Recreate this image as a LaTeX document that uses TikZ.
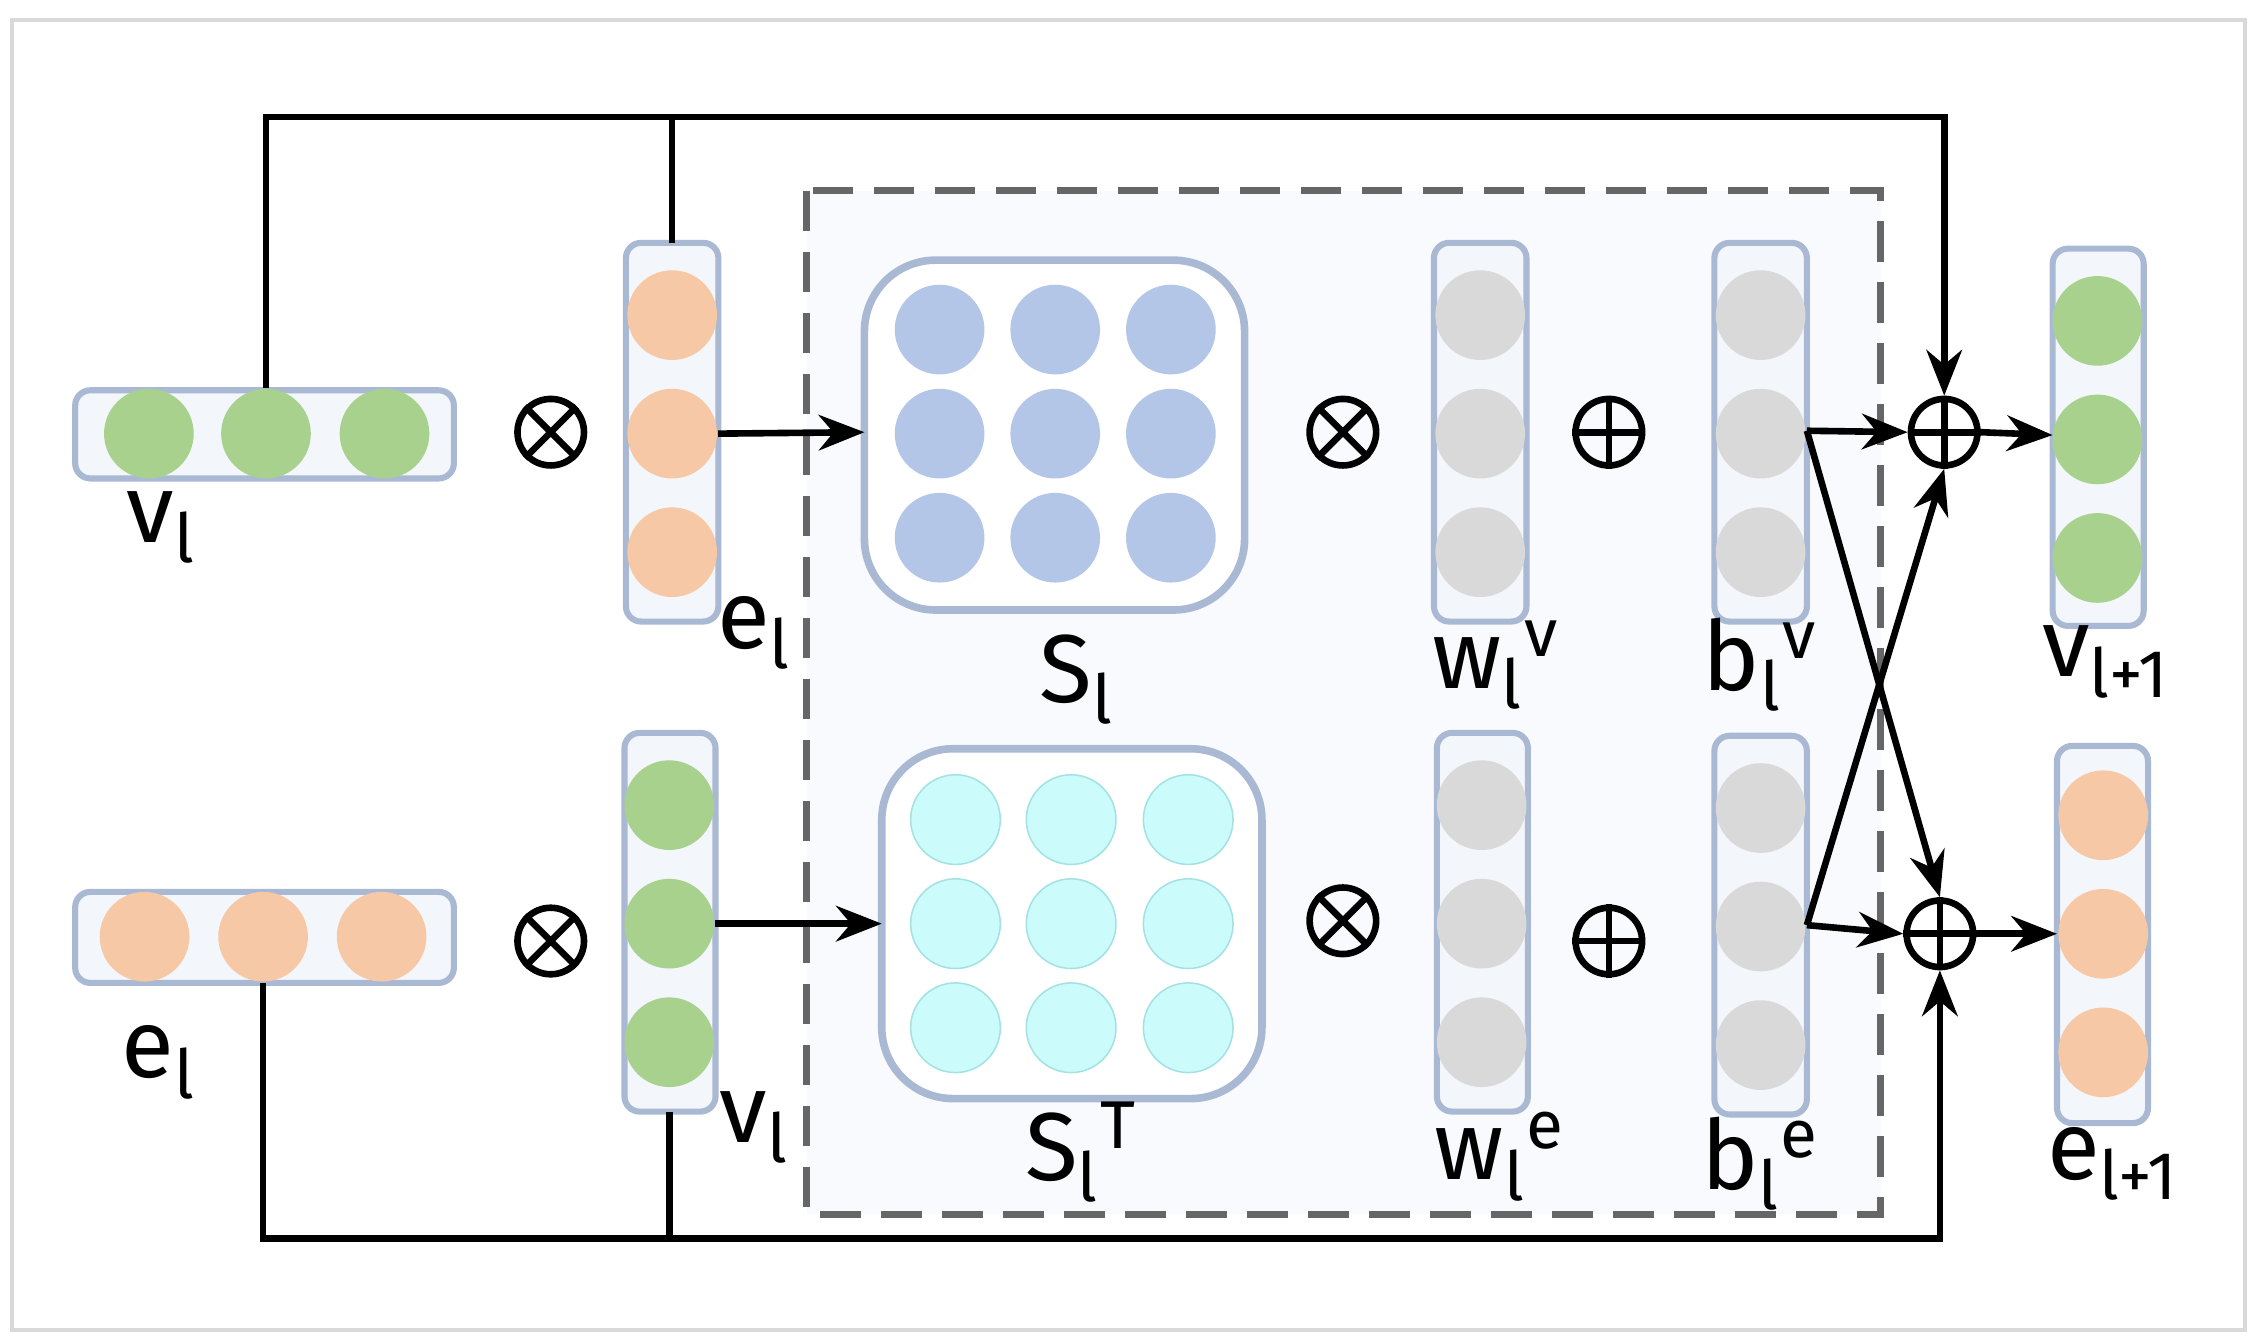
\documentclass[tikz,border=0pt]{standalone}
\usepackage{fontspec}
\setmainfont{Fira Sans}
\usetikzlibrary{arrows.meta}
\definecolor{grn}{HTML}{A8D18D}
\definecolor{pch}{HTML}{F7C8A6}
\definecolor{blu}{HTML}{B4C6E7}
\definecolor{cyn}{HTML}{CCFBFB}
\definecolor{gry}{HTML}{D9D9D9}
\definecolor{bbord}{HTML}{A9B9D3}
\definecolor{bfill}{HTML}{F3F6FB}
\tikzset{
 box/.style={draw=bbord,line width=1.2pt,fill=bfill,rounded corners=3pt},
 mbox/.style={draw=bbord,line width=1.5pt,fill=white,rounded corners=14pt},
 c/.style={circle,minimum size=0.62cm,inner sep=0pt,fill=#1},
 op/.style={circle,draw,line width=1.3pt,minimum size=0.46cm,inner sep=0pt},
 lbl/.style={font=\fontsize{19}{22}\selectfont\mdseries},
 arr/.style={line width=1.3pt,-{Stealth[length=9pt,width=7pt]}},
 ln/.style={line width=1.3pt}
}
\newcommand{\sbs}[1]{\textsubscript{#1}}
\newcommand{\sps}[1]{\textsuperscript{#1}}
\newcommand{\otimesnode}[2]{\node[op] (#1) at #2 {};
 \draw[line width=1.3pt] (#1.north west)--(#1.south east) (#1.north east)--(#1.south west);}
\newcommand{\oplusnode}[2]{\node[op] (#1) at #2 {};
 \draw[line width=1.3pt] (#1.north)--(#1.south) (#1.east)--(#1.west);}
\begin{document}
\begin{tikzpicture}[x=0.01cm,y=-0.01cm]
\useasboundingbox (0,0) rectangle (1560,928);
\draw[gray!30,line width=0.8pt] (8,14) rectangle (1553,920);
\draw[gray!80!black,line width=1.3pt,dash pattern=on 8pt off 4pt,fill=bfill!60] (558,132) rectangle (1301,840);
% top row
\draw[box] (52,270) rectangle (314,331);
\foreach \x/\n in {103/1,184/2,266/3} \node[c=grn] (vh\n) at (\x,300) {};
\node[lbl] (lv1) at (112,365) {v\sbs{l}};
\otimesnode{ot1}{(381,299)}
\draw[box] (433,168) rectangle (497,430);
\coordinate (ebtop) at (465,168);
\foreach \y/\n in {218/1,300/2,382/3} \node[c=pch] (ev\n) at (465,\y) {};
\node[lbl] (le1) at (522,438) {e\sbs{l}};
\draw[mbox] (598,180) rectangle (861,422);
\coordinate (sl) at (598,299);
\foreach \x in {650,730,810} \foreach \y in {228,300,372} \node[c=blu] at (\x,\y) {};
\node[lbl] (ls) at (745,470) {S\sbs{l}};
\otimesnode{ot2}{(929,299)}
\draw[box] (992,168) rectangle (1056,430);
\foreach \y in {218,300,382} \node[c=gry] at (1024,\y) {};
\node[lbl] (lw) at (1035,460) {w\sbs{l}\sps{v}};
\oplusnode{op1}{(1113,299)}
\draw[box] (1186,168) rectangle (1250,430);
\foreach \y/\n in {218/1,300/2,382/3} \node[c=gry] (bv\n) at (1218,\y) {};
\coordinate (bvo) at (1250,298);
\node[lbl] (lb) at (1218,460) {b\sbs{l}\sps{v}};
\oplusnode{pa}{(1345,299)}
\draw[box] (1420,172) rectangle (1483,433);
\coordinate (vnl) at (1420,301);
\foreach \y in {222,304,386} \node[c=grn] at (1451,\y) {};
\node[lbl] (lvn) at (1457,458) {v\sbs{l+1}};
% bottom row
\draw[box] (52,617) rectangle (314,680);
\foreach \x/\n in {100/1,182/2,264/3} \node[c=pch] (eh\n) at (\x,648) {};
\coordinate (ehb) at (182,680);
\node[lbl] (le2) at (110,735) {e\sbs{l}};
\otimesnode{ot3}{(381,651)}
\draw[box] (432,507) rectangle (495,769);
\coordinate (vbb) at (463,769);
\foreach \y/\n in {557/1,639/2,721/3} \node[c=grn] (vv\n) at (463,\y) {};
\node[lbl] (lv2) at (522,780) {v\sbs{l}};
\draw[mbox] (610,518) rectangle (873,760);
\coordinate (st) at (610,639);
\foreach \x in {661,741,822} \foreach \y in {567,639,711} \node[c=cyn,draw=cyn!80!teal,line width=0.3pt] at (\x,\y) {};
\node[lbl] (lst) at (748,797) {S\sbs{l}\sps{T}};
\otimesnode{ot4}{(929,637)}
\draw[box] (994,507) rectangle (1057,769);
\foreach \y in {557,639,721} \node[c=gry] at (1025,\y) {};
\node[lbl] (lwe) at (1038,800) {w\sbs{l}\sps{e}};
\oplusnode{op2}{(1113,651)}
\draw[box] (1186,509) rectangle (1250,771);
\foreach \y/\n in {559/1,641/2,723/3} \node[c=gry] (be\n) at (1218,\y) {};
\coordinate (beo) at (1250,640);
\node[lbl] (lbe) at (1218,805) {b\sbs{l}\sps{e}};
\oplusnode{pb}{(1342,646)}
\draw[box] (1423,516) rectangle (1486,777);
\coordinate (enl) at (1423,646);
\foreach \y in {564,646,728} \node[c=pch] at (1455,\y) {};
\node[lbl] (len) at (1462,805) {e\sbs{l+1}};
% connectors
\draw[arr] (vh2.north) |- (1345,81) -- (pa.north);
\draw[ln] (ebtop) -- (465,81);
\draw[arr] (ev2.east) -- (sl);
\draw[arr] (vv2.east) -- (st);
\draw[arr] (bvo) -- (pa.west);
\draw[arr] (bvo) -- (pb.north);
\draw[arr] (beo) -- (pa.south);
\draw[arr] (beo) -- (pb.west);
\draw[arr] (pa.east) -- (vnl);
\draw[arr] (pb.east) -- (enl);
\draw[arr] (ehb) |- (1342,857) -- (pb.south);
\draw[ln] (vbb) -- (463,857);
\end{tikzpicture}
\end{document}
